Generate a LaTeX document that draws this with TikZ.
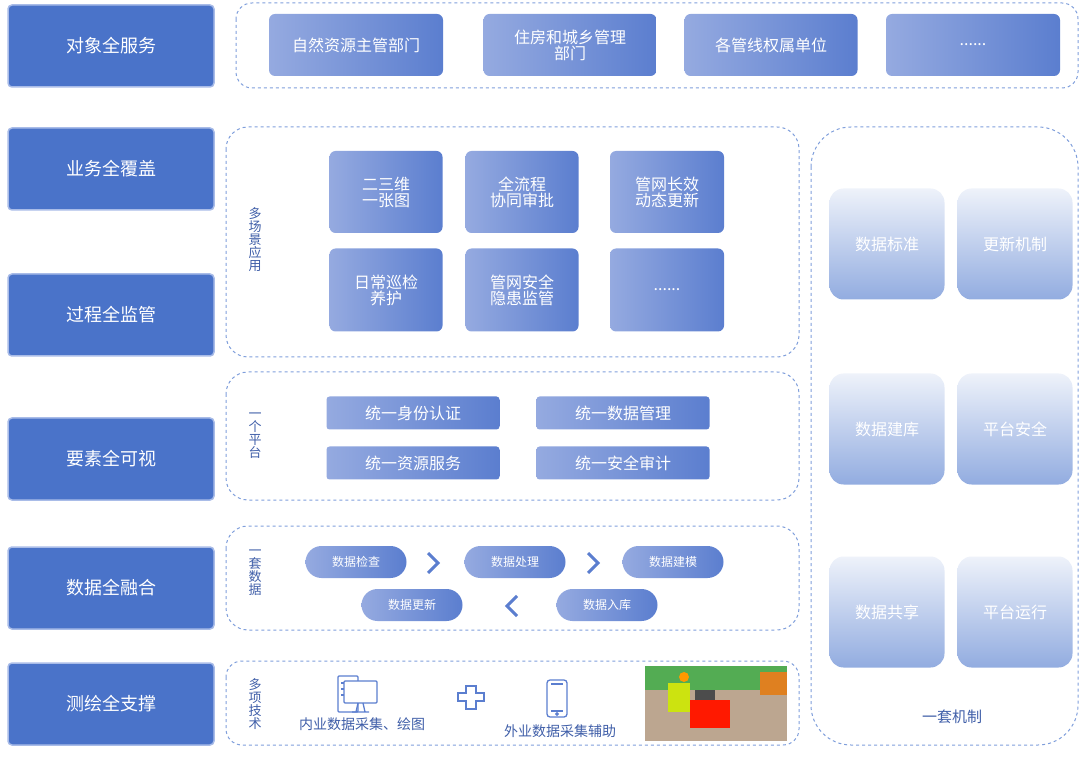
\documentclass[tikz,border=0pt]{standalone}
\usepackage{fontspec}
\setmainfont{Noto Sans CJK SC}
\usetikzlibrary{shapes.geometric}
\definecolor{lb}{HTML}{4A73C9}
\definecolor{lbb}{HTML}{A9BCE8}
\definecolor{dsh}{HTML}{7F9EDB}
\definecolor{gl}{HTML}{95AAE0}
\definecolor{gd}{HTML}{5B7ECF}
\definecolor{vt}{HTML}{EEF2FA}
\definecolor{vb}{HTML}{92ACE0}
\definecolor{tx}{HTML}{3F5EA8}
\tikzset{
 leftbox/.style={draw=lbb,line width=1.5pt,fill=lb,rounded corners=4pt,text=white,font=\fontsize{18}{20}\selectfont,minimum width=206pt,minimum height=82pt},
 frame/.style={draw=dsh,dashed,line width=1pt,rounded corners=22pt},
 gbox/.style={left color=gl,right color=gd,rounded corners=6pt,text=white,font=\fontsize{16}{19}\selectfont,align=center},
 pill/.style={left color=gl,right color=gd,rounded corners=16pt,text=white,font=\fontsize{12}{14}\selectfont,minimum width=101pt,minimum height=32pt},
 vbox/.style={top color=vt,bottom color=vb,rounded corners=14pt,text=white,font=\fontsize{16}{19}\selectfont,minimum width=115pt,minimum height=111pt},
 side/.style={text=tx,font=\fontsize{13}{18}\selectfont,align=center},
 chev/.style={draw=gd,line width=3pt}
}
\begin{document}
\begin{tikzpicture}[x=1pt,y=-1pt]
\useasboundingbox (0,0) rectangle (1080,759);
% left
\node[leftbox] (l1) at (111,46) {对象全服务};
\node[leftbox] (l2) at (111,169) {业务全覆盖};
\node[leftbox] (l3) at (111,315) {过程全监管};
\node[leftbox] (l4) at (111,459) {要素全可视};
\node[leftbox] (l5) at (111,588) {数据全融合};
\node[leftbox] (l6) at (111,704) {测绘全支撑};
% frames
\draw[frame,rounded corners=16pt] (236,3) rectangle (1078,88);
\draw[frame] (226,127) rectangle (799,357);
\draw[frame] (226,372) rectangle (799,500);
\draw[frame] (226,526) rectangle (799,630);
\draw[frame,rounded corners=16pt] (226,661) rectangle (799,745);
\draw[frame,rounded corners=40pt] (811,127) rectangle (1078,745);
% top row
\node[gbox,minimum width=174pt,minimum height=62pt] (t1) at (356,45) {自然资源主管部门};
\node[gbox,minimum width=173pt,minimum height=62pt] (t2) at (570,45) {住房和城乡管理\\[-3pt]部门};
\node[gbox,minimum width=173pt,minimum height=62pt] (t3) at (771,45) {各管线权属单位};
\node[gbox,minimum width=174pt,minimum height=62pt] (t4) at (973,45) {......};
% business
\node[side] (s1) at (255,240) {多\\[-5pt]场\\[-5pt]景\\[-5pt]应\\[-5pt]用};
\node[gbox,minimum width=113pt,minimum height=82pt] (b1) at (386,192) {二三维\\[-3pt]一张图};
\node[gbox,minimum width=113pt,minimum height=82pt] (b2) at (522,192) {全流程\\[-3pt]协同审批};
\node[gbox,minimum width=114pt,minimum height=82pt] (b3) at (667,192) {管网长效\\[-3pt]动态更新};
\node[gbox,minimum width=113pt,minimum height=83pt] (b4) at (386,290) {日常巡检\\[-3pt]养护};
\node[gbox,minimum width=113pt,minimum height=83pt] (b5) at (522,290) {管网安全\\[-3pt]隐患监管};
\node[gbox,minimum width=114pt,minimum height=83pt] (b6) at (667,290) {......};
% platform
\node[side] (s2) at (255,436) {一\\[-5pt]个\\[-5pt]平\\[-5pt]台};
\node[gbox,minimum width=173pt,minimum height=33pt,rounded corners=3pt] (p1) at (413,413) {统一身份认证};
\node[gbox,minimum width=173pt,minimum height=33pt,rounded corners=3pt] (p2) at (623,413) {统一数据管理};
\node[gbox,minimum width=173pt,minimum height=33pt,rounded corners=3pt] (p3) at (413,463) {统一资源服务};
\node[gbox,minimum width=173pt,minimum height=33pt,rounded corners=3pt] (p4) at (623,463) {统一安全审计};
% data
\node[side] (s3) at (255,573) {一\\[-5pt]套\\[-5pt]数\\[-5pt]据};
\node[pill] (d1) at (356,562) {数据检查};
\node[pill] (d2) at (515,562) {数据处理};
\node[pill] (d3) at (673,562) {数据建模};
\node[pill] (d4) at (412,605) {数据更新};
\node[pill] (d5) at (607,605) {数据入库};
\draw[chev] (428,553) -- (438,563) -- (428,573);
\draw[chev] (588,553) -- (598,563) -- (588,573);
\draw[chev] (517,596) -- (507,606) -- (517,616);
% tech
\node[side] (s4) at (255,704) {多\\[-5pt]项\\[-5pt]技\\[-5pt]术};
\begin{scope}[draw=gd,line width=1.3pt]
\draw[rounded corners=1pt] (338,676) rectangle (358,712);
\draw (341,683) -- (352,683) (341,689) -- (352,689) (341,695) -- (352,695);
\draw[fill=white,rounded corners=1pt] (344,681) rectangle (377,703);
\draw (358,703) -- (356,712) (363,703) -- (365,712) (352,712) -- (369,712);
\draw (466,686) -- (476,686) -- (476,693) -- (484,693) -- (484,701) -- (476,701) -- (476,709) -- (466,709) -- (466,701) -- (458,701) -- (458,693) -- (466,693) -- cycle;
\draw[rounded corners=3pt] (547,680) rectangle (567,717);
\draw (551,684) -- (563,684) (551,711) -- (563,711);
\draw (557,714) circle (1.2pt);
\end{scope}
\node[text=tx,font=\fontsize{14}{16}\selectfont] (c1) at (362,724) {内业数据采集、绘图};
\node[text=tx,font=\fontsize{14}{16}\selectfont] (c2) at (560,731) {外业数据采集辅助};
% photo
\fill[gray!55] (645,666) rectangle (787,741);
\fill[green!35!gray] (645,666) rectangle (787,690);
\fill[brown!50!gray!70] (645,690) rectangle (787,741);
\fill[yellow!80!green] (668,683) rectangle (690,712);
\fill[orange!90!black] (662,672) circle (0pt);
\fill[orange!80!yellow] (684,677) circle (5pt);
\fill[red!80!orange] (690,700) rectangle (730,728);
\fill[black!70] (695,690) rectangle (715,700);
\fill[orange!50!brown] (760,672) rectangle (787,695);
% right
\node[vbox] (r1) at (887,244) {数据标准};
\node[vbox] (r2) at (1015,244) {更新机制};
\node[vbox] (r3) at (887,429) {数据建库};
\node[vbox] (r4) at (1015,429) {平台安全};
\node[vbox] (r5) at (887,612) {数据共享};
\node[vbox] (r6) at (1015,612) {平台运行};
\node[text=tx,font=\fontsize{15}{17}\selectfont] (m) at (952,717) {一套机制};
\end{tikzpicture}
\end{document}
